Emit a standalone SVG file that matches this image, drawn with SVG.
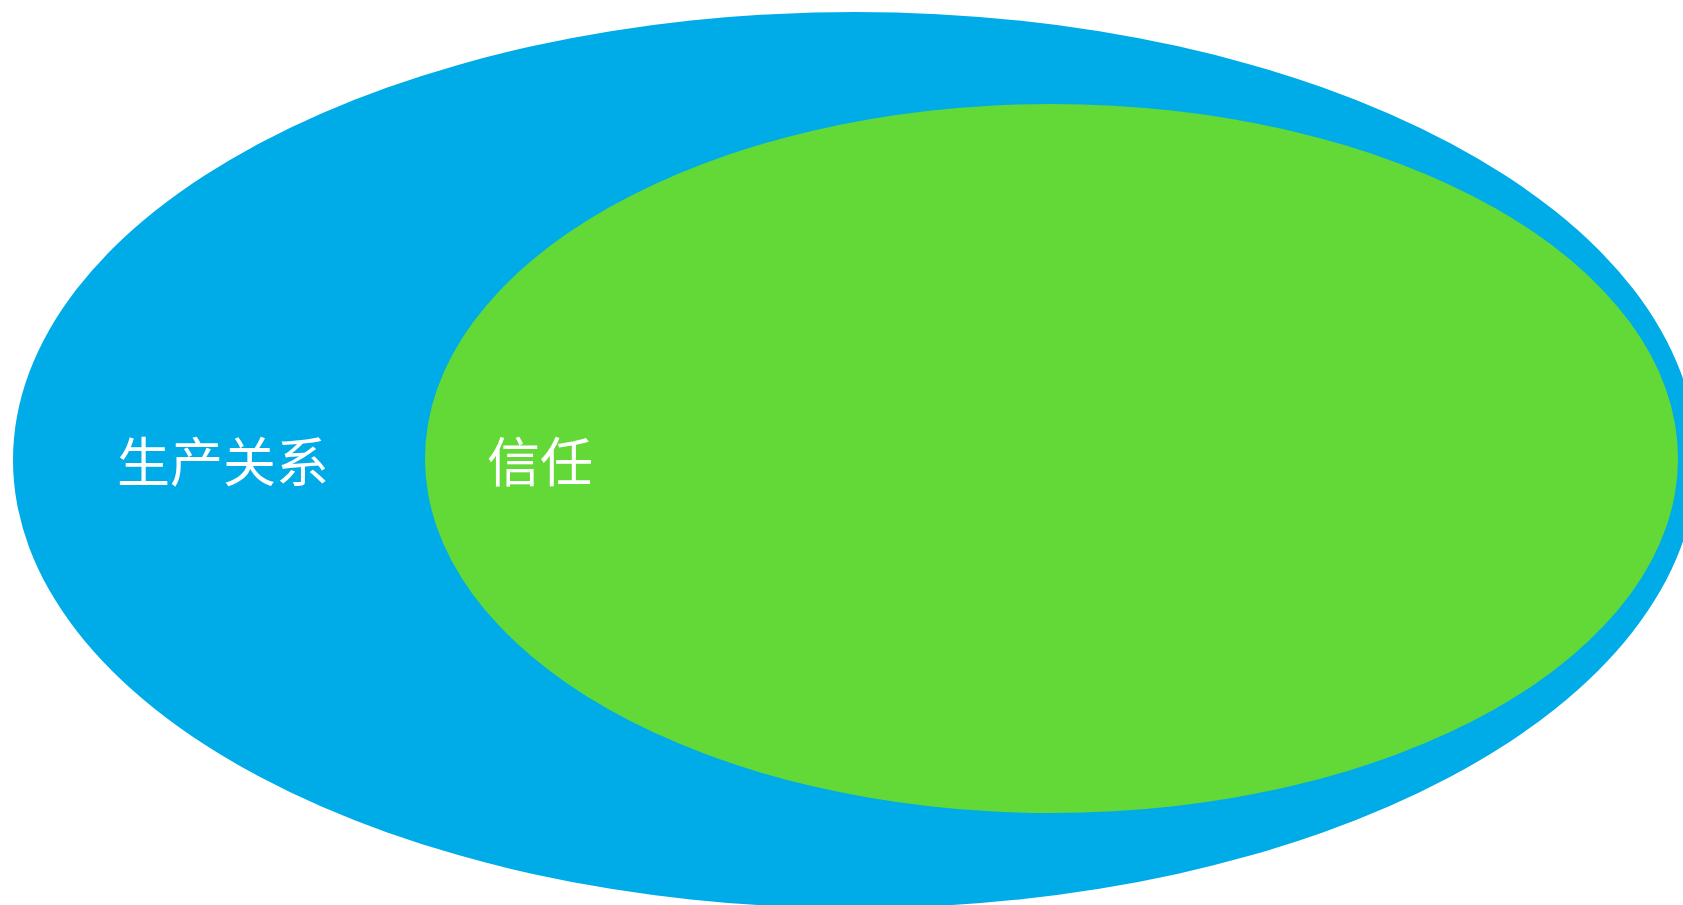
<svg xmlns="http://www.w3.org/2000/svg" width="1683" height="905" viewBox="0 0 1683 905">
<style>
.lbl{font-family:"Noto Sans CJK SC","Noto Sans",sans-serif;font-size:53px;fill:#ffffff}
</style>
<rect width="1683" height="905" fill="#ffffff"/>
<g id="node-production">
<ellipse cx="855" cy="460" rx="842" ry="448" fill="#00ACE8"/>
<text class="lbl" x="117" y="482">生产关系</text>
</g>
<g id="node-trust">
<ellipse cx="1051.5" cy="458.5" rx="626.5" ry="354.5" fill="#62D936"/>
<text class="lbl" x="487" y="482">信任</text>
</g>
<g id="connectors"></g>
</svg>
